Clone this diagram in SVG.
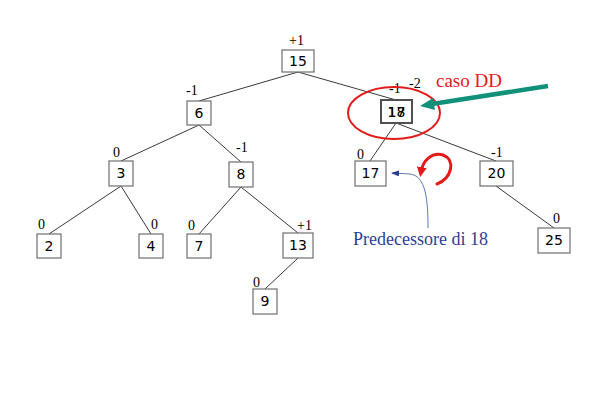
<svg xmlns="http://www.w3.org/2000/svg" width="601" height="410" viewBox="0 0 601 410">
<style>
.box{fill:#fff;stroke:#6e6e6e;stroke-width:1.2}
.lbl{font-family:"DejaVu Sans",sans-serif;font-size:14px;fill:#000;text-anchor:middle}
.bal{font-family:"Liberation Serif",serif;font-size:14px;fill:#000}
.edge{stroke:#222;stroke-width:0.9;fill:none}
</style>
<defs>
<marker id="blueHead" markerWidth="8" markerHeight="6" refX="7" refY="3" orient="auto" markerUnits="userSpaceOnUse">
<path d="M0,0 L8,3 L0,6 Z" fill="#2a3d8f"/>
</marker>
<marker id="redHead" markerWidth="10" markerHeight="10" refX="5" refY="5" orient="auto" markerUnits="userSpaceOnUse">
<path d="M0,0 L10,5 L0,10 Z" fill="#e31a1a"/>
</marker>
</defs>
<g id="connectors">
<line class="edge" x1="298" y1="72" x2="199" y2="101"/>
<line class="edge" x1="298" y1="72" x2="396" y2="100"/>
<line class="edge" x1="199" y1="125" x2="121" y2="161"/>
<line class="edge" x1="199" y1="125" x2="241" y2="162"/>
<line class="edge" x1="121" y1="186" x2="49" y2="234"/>
<line class="edge" x1="121" y1="186" x2="151" y2="234"/>
<line class="edge" x1="241" y1="187" x2="199" y2="234"/>
<line class="edge" x1="241" y1="187" x2="298" y2="233"/>
<line class="edge" x1="298" y1="258" x2="265" y2="289"/>
<line class="edge" x1="396" y1="123" x2="370" y2="161"/>
<line class="edge" x1="396" y1="123" x2="496" y2="161"/>
<line class="edge" x1="496" y1="186" x2="554" y2="228"/>
</g>
<g id="n15"><rect class="box" x="282" y="50" width="32" height="22"/><text class="lbl" x="298" y="66">15</text><text class="bal" x="289" y="45">+1</text></g>
<g id="n6"><rect class="box" x="187" y="101" width="24" height="24"/><text class="lbl" x="199" y="118">6</text><text class="bal" x="186" y="95">-1</text></g>
<g id="n3"><rect class="box" x="109" y="161" width="24" height="25"/><text class="lbl" x="121" y="178">3</text><text class="bal" x="113" y="157">0</text></g>
<g id="n8"><rect class="box" x="229" y="162" width="24" height="25"/><text class="lbl" x="241" y="179">8</text><text class="bal" x="236" y="152">-1</text></g>
<g id="n2"><rect class="box" x="37" y="234" width="24" height="24"/><text class="lbl" x="49" y="251">2</text><text class="bal" x="38" y="229">0</text></g>
<g id="n4"><rect class="box" x="139" y="234" width="24" height="24"/><text class="lbl" x="151" y="251">4</text><text class="bal" x="151" y="229">0</text></g>
<g id="n7"><rect class="box" x="187" y="234" width="24" height="24"/><text class="lbl" x="199" y="251">7</text><text class="bal" x="188" y="230">0</text></g>
<g id="n13"><rect class="box" x="283" y="233" width="30" height="25"/><text class="lbl" x="298" y="250">13</text><text class="bal" x="297" y="230">+1</text></g>
<g id="n9"><rect class="box" x="253" y="289" width="24" height="25"/><text class="lbl" x="265" y="306">9</text><text class="bal" x="253" y="287">0</text></g>
<g id="n18"><rect x="381" y="100" width="31" height="23" fill="#fff" stroke="#505050" stroke-width="2"/><text class="lbl" x="396.5" y="117">18</text><text class="lbl" x="396.5" y="117">17</text><text class="bal" x="389" y="93">-1</text><text class="bal" x="409" y="88" fill="#e31a1a">-2</text></g>
<g id="n17"><rect class="box" x="355" y="161" width="31" height="25"/><text class="lbl" x="370.5" y="178">17</text><text class="bal" x="357" y="159">0</text></g>
<g id="n20"><rect class="box" x="480" y="161" width="33" height="25"/><text class="lbl" x="496.5" y="178">20</text><text class="bal" x="491" y="157">-1</text></g>
<g id="n25"><rect class="box" x="538" y="228" width="32" height="25"/><text class="lbl" x="554" y="245">25</text><text class="bal" x="553" y="223">0</text></g>
<g id="annotations">
<ellipse cx="394" cy="113" rx="46" ry="26" fill="none" stroke="#e31a1a" stroke-width="2"/>
<text x="436" y="87" font-family="Liberation Serif,serif" font-size="19" fill="#e31a1a">caso DD</text>
<line x1="548" y1="86" x2="432" y2="104" stroke="#11907a" stroke-width="4.5"/>
<path d="M420,106 L433,98 L435,110 Z" fill="#11907a"/>
<path d="M428,228 C428,200 426,176 410,174 L392,173" fill="none" stroke="#4a6aa8" stroke-width="0.9" marker-end="url(#blueHead)"/>
<text x="353" y="245" font-family="Liberation Serif,serif" font-size="18" fill="#2e3f94">Predecessore di 18</text>
<path d="M437,184 C452,178 456,160 443,155 C432,152 423,160 421,172" fill="none" stroke="#e31a1a" stroke-width="3" stroke-linecap="round" marker-end="url(#redHead)"/>
</g>
</svg>
